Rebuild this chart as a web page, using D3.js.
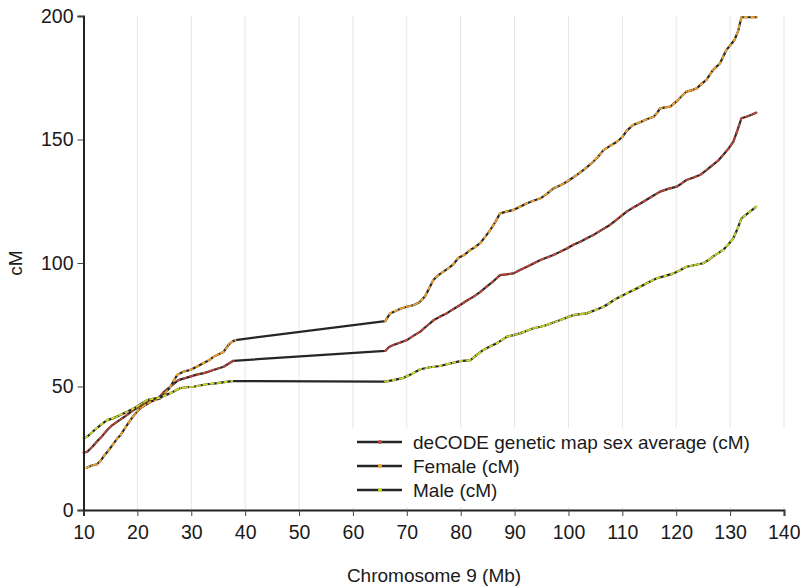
<!DOCTYPE html>
<html><head><meta charset="utf-8">
<script src="https://cdn.jsdelivr.net/npm/d3@7"></script>
<style>body{margin:0;background:#fff}svg{display:block}</style>
</head><body>
<svg id="c" width="800" height="588"></svg>
<script>
const xTicks = [10,20,30,40,50,60,70,80,90,100,110,120,130,140];
const yTicks = [0,50,100,150,200];
const seriesNames = ["deCODE genetic map sex average (cM)","Female (cM)","Male (cM)"];
const seriesColors = ["#c0473a","#f2a531","#cbd92b"];

const sexAverage = [[10,23.2],[10.7,23.6],[11.6,25.5],[12.5,27.7],[13.5,30],[14.4,32.4],[15.3,34.3],[16.2,35.7],[17.1,37],[18.1,38.5],[19,40],[19.9,41.3],[20.8,42.5],[21.8,43.9],[22.8,44.5],[23.9,45.3],[24.8,47.5],[25.8,49.4],[26.7,51],[27.6,52.6],[28.7,53.3],[29.8,54],[31,54.8],[32.3,55.4],[33.2,56],[34.1,56.7],[35,57.3],[36,58],[36.9,59.2],[37.8,60.4],
[66,64.4],[66.7,66],[67.5,66.8],[68.8,67.8],[70,68.8],[71.2,70.5],[72.5,72.2],[73.7,74.5],[75,76.9],[76.2,78.3],[77.4,79.6],[78.6,81.3],[79.9,83],[81.1,84.7],[82.4,86.4],[83.6,88.2],[84.8,90.4],[86,92.5],[87.3,95.1],[88.5,95.4],[89.8,95.8],[91,97.2],[92.3,98.5],[93.5,99.8],[94.8,101.2],[96,102.2],[97.2,103.2],[98.5,104.6],[99.7,105.9],[101,107.5],[102.2,108.6],[103.4,110],[104.6,111.3],[106.1,113.3],[107.7,115.4],[109.2,118],[110.8,120.8],[112.3,122.8],[113.9,124.8],[115.4,126.8],[117,128.9],[118.5,130],[120.1,130.9],[121,132.2],[121.9,133.6],[123.2,134.6],[124.4,135.6],[125.6,137.6],[126.8,139.7],[127.8,141.5],[128.7,143.7],[129.7,146.3],[130.6,149.1],[131.4,154],[132.1,158.6],[133,159.2],[134,160],[134.9,160.9]];

const female = [[10.5,17],[11.5,18],[12.5,18.5],[13.2,20],[14,22.5],[14.8,24.5],[15.6,27],[16.3,29],[16.9,30.4],[17.8,33.5],[18.7,36.4],[19.6,39],[20.6,41.3],[21.5,42.5],[22.4,43.7],[23.3,44.5],[24.3,45.3],[25.2,47.5],[26.1,49.8],[26.8,52.5],[27.4,54.7],[28.5,56],[29.8,56.7],[31,58],[32.3,59.5],[33.2,60.5],[34.1,62],[35,63],[36,64],[36.9,66.8],[37.5,68],[38.2,68.8],
[66,76.5],[66.9,79.6],[67.8,80.5],[68.8,81.5],[70,82.3],[71.3,83],[72.3,84],[73.4,86.5],[74.2,90],[74.9,93],[75.8,95],[76.8,96.5],[77.8,98],[78.7,99.5],[79.5,102],[80.5,103],[81.8,105.3],[82.7,106.5],[83.6,108],[84.5,110.5],[85.5,113.4],[86.4,116.5],[87.3,120.1],[88.5,120.8],[89.8,121.5],[91,122.8],[92.3,124.2],[93.5,125.2],[94.8,126.2],[96,128],[97.2,130.2],[98.5,131.5],[99.7,132.9],[101.5,135.6],[103,138],[104.6,141],[105.5,143],[106.5,145.7],[107.8,147.5],[109,149.1],[110,151],[110.8,153.5],[112,155.9],[113.3,157],[114.5,158.2],[115.8,159.2],[116.4,160.6],[117,162.6],[118,163],[118.9,163.3],[120.1,165.5],[121,167.5],[121.9,169.4],[123,170],[123.8,170.7],[124.7,172.5],[125.6,174.1],[126.8,178.1],[128.1,180.8],[129.3,186.2],[130.8,190.3],[131.5,194],[132.1,199.5],[133,199.5],[134,199.5],[135,199.5]];

const male = [[10,29.2],[10.7,29.7],[11.6,31.5],[12.5,33.2],[13.5,35],[14.4,36.4],[15.3,37],[16.2,37.8],[17.1,38.8],[18.1,39.8],[19,40.8],[19.9,41.8],[20.8,43.2],[21.8,44.5],[22.8,45],[23.9,45.3],[25,46.3],[26.1,47.3],[27,48.3],[28,49.4],[29.2,49.7],[30.4,49.9],[31.6,50.4],[32.9,50.9],[34.1,51.2],[35.4,51.6],[36.5,51.9],[37.6,52.2],
[66,52],[67.5,52.6],[69.4,53.5],[71,55.2],[72.5,57],[74.3,57.8],[76.2,58.3],[78,59.3],[79.9,60.3],[81.8,60.7],[83,62.8],[84.2,64.8],[85.4,66.2],[86.7,67.5],[87.6,68.8],[88.6,70.2],[89.8,70.8],[91,71.5],[92.3,72.6],[93.5,73.6],[94.8,74.2],[96,74.9],[97.2,75.9],[98.5,76.9],[99.7,77.9],[100.9,78.9],[102.2,79.3],[103.4,79.6],[105,81],[106.5,82.3],[107.5,83.6],[108.4,85],[109.6,86.3],[110.8,87.7],[112,89],[113.3,90.4],[114.8,92.1],[116.4,93.8],[118,94.8],[119.5,95.8],[120.7,97.1],[121.9,98.5],[123.5,99.2],[125,99.9],[126,101.2],[126.8,102.6],[127.8,104],[128.7,105.3],[129.7,107.6],[130.6,110],[131.4,114],[132.1,118.1],[133.5,120.5],[134.9,122.8]];

const series = [sexAverage, female, male];

const svg = d3.select("#c");
const font = "'Liberation Sans', Arial, Helvetica, sans-serif";
const x = d3.scaleLinear().domain([10,140]).range([83.5,784]);
const y = d3.scaleLinear().domain([0,200]).range([510,16]);

// gridlines
svg.append("g").selectAll("line").data(xTicks.slice(1)).join("line")
  .attr("x1",d=>x(d)).attr("x2",d=>x(d)).attr("y1",y(200)).attr("y2",y(0))
  .attr("stroke","#e6e6e6").attr("stroke-width",1);

// lines
const line = d3.line().x(d=>x(d[0])).y(d=>y(d[1]));
series.forEach((s,i)=>{
  svg.append("path").attr("d",line(s)).attr("fill","none")
    .attr("stroke","#262626").attr("stroke-width",2.2).attr("stroke-linejoin","round");
  const first = s.filter(d=>d[0]<40), second = s.filter(d=>d[0]>60);
  [first, second].forEach(part=>{
    svg.append("path").attr("d",line(part)).attr("fill","none")
      .attr("stroke",seriesColors[i]).attr("stroke-width",1.8)
      .attr("stroke-dasharray","4,3").attr("stroke-linejoin","round");
  });
  svg.append("g").selectAll("circle").data(s).join("circle")
    .attr("cx",d=>x(d[0])).attr("cy",d=>y(d[1])).attr("r",1.1)
    .attr("fill",seriesColors[i]);
});

// legend
const lg = svg.append("g");
lg.append("rect").attr("x",352).attr("y",428).attr("width",448).attr("height",79).attr("fill","#fff");
seriesNames.forEach((n,i)=>{
  const ly = 442 + i*24;
  lg.append("line").attr("x1",357).attr("x2",402).attr("y1",ly).attr("y2",ly)
    .attr("stroke","#262626").attr("stroke-width",2.4);
  lg.append("circle").attr("cx",380).attr("cy",ly).attr("r",2).attr("fill",seriesColors[i]);
  lg.append("text").attr("x",413).attr("y",ly+7).text(n)
    .attr("font-family",font).attr("font-size",19).attr("fill","#1a1a1a");
});

// axes
const xa = svg.append("g").attr("transform",`translate(0,${y(0)})`)
  .call(d3.axisBottom(x).tickValues(xTicks).tickSize(6).tickPadding(9).tickFormat(d3.format("d")));
const ya = svg.append("g").attr("transform",`translate(${x(10)},0)`)
  .call(d3.axisLeft(y).tickValues(yTicks).tickSize(6).tickPadding(4).tickFormat(d3.format("d")));
[xa,ya].forEach(a=>{
  a.select(".domain").attr("stroke","#222").attr("stroke-width",2);
  a.selectAll(".tick line").attr("stroke","#444").attr("stroke-width",1);
  a.selectAll("text").attr("font-family",font).attr("font-size",19.5).attr("fill","#1a1a1a");
});
xa.selectAll(".tick text").filter(d=>d===140).attr("text-anchor","end").attr("dx","16");

svg.append("text").attr("x",434).attr("y",582).attr("text-anchor","middle")
  .attr("font-family",font).attr("font-size",19).attr("fill","#1a1a1a").text("Chromosome 9 (Mb)");
svg.append("text").attr("transform","translate(22,263) rotate(-90)").attr("text-anchor","middle")
  .attr("font-family",font).attr("font-size",19).attr("fill","#1a1a1a").text("cM");
</script>
</body></html>
